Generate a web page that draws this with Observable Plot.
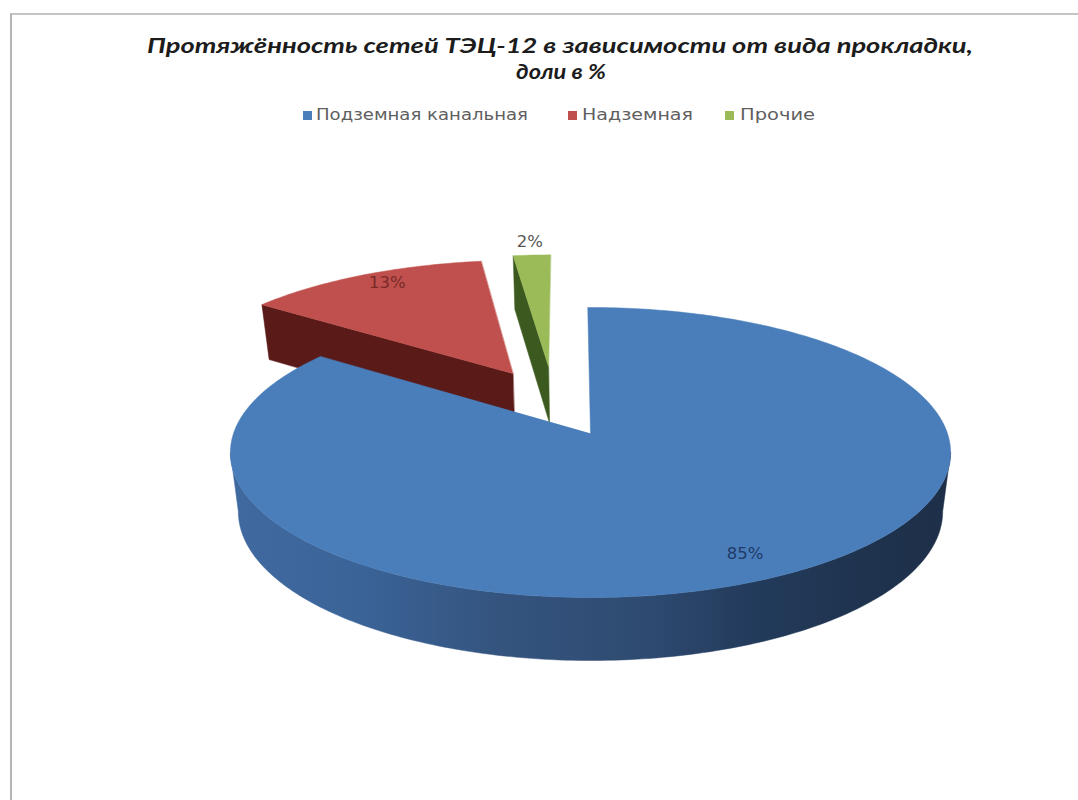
<!DOCTYPE html>
<html lang="ru">
<head>
<meta charset="utf-8">
<script src="https://cdn.jsdelivr.net/npm/d3@7"></script>
<script src="https://cdn.jsdelivr.net/npm/@observablehq/plot@0.6"></script>
<style>
  html, body { margin: 0; background: #fff; }
  #page { position: relative; width: 1078px; height: 800px; overflow: hidden; font-family: "DejaVu Sans", sans-serif; }
  #frame { position: absolute; left: 10px; top: 13px; right: 0; bottom: 0; border-left: 2px solid #b4b4b4; border-top: 2px solid #c4c4c4; }
  .line { position: absolute; white-space: nowrap; transform-origin: 0 50%; font: italic bold 20px/27px Lato, "DejaVu Sans", sans-serif; color: #1c1c1c; }
  .key { position: absolute; top: 105px; font-size: 16.5px; line-height: 20px; color: #5f5f5f; white-space: nowrap; transform-origin: 0 50%; }
  .swatch { position: absolute; top: 111px; width: 9px; height: 9px; }
  #chart { position: absolute; left: 0; top: 135px; }
  #chart svg { display: block; }
</style>
</head>
<body>
<div id="page">
  <div id="frame"></div>
  <div id="title"></div>
  <div id="legend"></div>
  <div id="chart"></div>
</div>
<script>
// Length of the CHP-12 heat network by laying method, share in percent
const categories = ["Подземная канальная", "Надземная", "Прочие"];
const shares = [85, 13, 2];
const titleLines = ["Протяжённость сетей ТЭЦ-12 в зависимости от вида прокладки,", "доли в %"];

// Slice palette
const topColors = ["#4a7ebb", "#c0504d", "#9bbb59"];
const wallColors = ["#3a6296", "#5a1a18", "#3c5a1f"];
const labelColors = ["#1f3a68", "#772a28", "#555555"];
const rimStops = [[235, "#40699f"], [350, "#3b6499"], [500, "#34547e"], [650, "#2e4a70"], [750, "#233b5c"], [850, "#1f3450"], [945, "#1e2f48"]];

// Pie geometry on the picture plane
const center = [590, 433];
const radius = 357;
const spread = 142.5;
const tilt = 0.131;
const startAngle = -0.5;
const pulled = [[0, 0], [-0.23, -0.445], [-0.125, -0.5]];
const labelReach = [0.85, 0.88, 1.13];
const labelShift = [[-1, 1], [8, -3], [0, -1]];

// Perspective view of the flat disc, u to the right and v towards the viewer
function project(u, v) {
  const w = 1 / (1 - tilt * v);
  return {x: center[0] + radius * u * w, y: center[1] + spread * v * w, w};
}

// The same point on the underside of the disc
function lower(p) {
  return {x: center[0] + (p.x - center[0]) * 0.978, y: p.y + 55 + (p.w - 0.883) * 30};
}

function rim(angle, r, offset) {
  const a = angle * Math.PI / 180;
  return project(offset[0] + r * Math.sin(a), offset[1] - r * Math.cos(a));
}

// Angles of each slice, clockwise from twelve o'clock
const total = d3.sum(shares);
let cursor = startAngle;
const slices = shares.map((share, i) => {
  const from = cursor;
  cursor += share / total * 360;
  return {i, from, to: cursor, offset: pulled[i]};
});

function topFace(s) {
  const pts = [rim(0, 0, s.offset)];
  const steps = Math.ceil(s.to - s.from);
  for (let k = 0; k <= steps; ++k) pts.push(rim(s.from + (s.to - s.from) * k / steps, 1, s.offset));
  return pts.map((p) => ({x: p.x, y: p.y, id: s.i}));
}

// The cut face of a pulled slice that turns towards the viewer
function cutFace(s) {
  const apex = rim(0, 0, s.offset);
  const outer = rim(s.from, 1, s.offset);
  return [apex, outer, lower(outer), lower(apex)].map((p) => ({x: p.x, y: p.y, id: s.i}));
}

// Outer wall of the large slice between its two silhouette points:
// upper arc out, lower arc back
const silhouette = Math.acos(-tilt) * 180 / Math.PI;
const wallAngles = d3.range(silhouette, 360 - silhouette + 0.5);
const upperArc = wallAngles.map((angle) => rim(angle, 1, [0, 0]));
const wallOutline = [...upperArc, ...upperArc.map(lower).reverse()].map((p) => ({x: p.x, y: p.y, id: "wall"}));

const labelRows = slices.map((s) => {
  const p = rim((s.from + s.to) / 2, labelReach[s.i], s.offset);
  return {
    x: p.x + labelShift[s.i][0],
    y: p.y + labelShift[s.i][1],
    text: `${shares[s.i]}%`,
    colour: labelColors[s.i]
  };
});

const polygon = (rows, colour) => Plot.line(rows, {
  x: "x", y: "y", z: "id", fill: colour, stroke: colour, strokeWidth: 0.5, curve: "linear-closed"
});

const [large, middle, small] = slices;
const chart = Plot.plot({
  width: 1078,
  height: 665,
  margin: 0,
  x: {domain: [0, 1078], range: [0, 1078], axis: null},
  y: {domain: [135, 800], range: [0, 665], axis: null},
  color: {type: "identity"},
  style: {background: "transparent"},
  marks: [
    polygon(cutFace(middle), wallColors[1]),
    polygon(topFace(middle), topColors[1]),
    polygon(cutFace(small), wallColors[2]),
    polygon(topFace(small), topColors[2]),
    polygon(wallOutline, "url(#rimShade)"),
    polygon(topFace(large), topColors[0]),
    Plot.text(labelRows, {
      x: "x", y: "y", text: "text", fill: "colour",
      fontSize: 16.5, fontFamily: "DejaVu Sans, sans-serif"
    })
  ]
});

// Horizontal shading for the outer wall
const gradient = d3.select(chart).append("defs").append("linearGradient")
  .attr("id", "rimShade")
  .attr("gradientUnits", "userSpaceOnUse")
  .attr("x1", rimStops[0][0]).attr("x2", rimStops[rimStops.length - 1][0])
  .attr("y1", 0).attr("y2", 0);
const [first, last] = [rimStops[0][0], rimStops[rimStops.length - 1][0]];
gradient.selectAll("stop").data(rimStops).join("stop")
  .attr("offset", (d) => (d[0] - first) / (last - first))
  .attr("stop-color", (d) => d[1]);
document.getElementById("chart").append(chart);

// Stretch a text element horizontally so it spans the wanted width
function fit(el, left, width) {
  el.style.left = left + "px";
  el.style.transform = `scaleX(${width / el.getBoundingClientRect().width})`;
}

// Heading
const titleBox = [[147, 32, 826], [516, 58, 90]];
const titleHost = document.getElementById("title");
titleLines.forEach((text, i) => {
  const line = document.createElement("div");
  line.className = "line";
  line.style.top = titleBox[i][1] + "px";
  line.textContent = text;
  titleHost.append(line);
  fit(line, titleBox[i][0], titleBox[i][2]);
});

// Legend row
const swatchLeft = [303, 568, 725];
const keyBox = [[316, 212], [582, 111], [740, 75]];
const legend = document.getElementById("legend");
categories.forEach((name, i) => {
  const swatch = document.createElement("div");
  swatch.className = "swatch";
  swatch.style.left = swatchLeft[i] + "px";
  swatch.style.background = topColors[i];
  const key = document.createElement("div");
  key.className = "key";
  key.textContent = name;
  legend.append(swatch, key);
  fit(key, keyBox[i][0], keyBox[i][1]);
});
</script>
</body>
</html>
